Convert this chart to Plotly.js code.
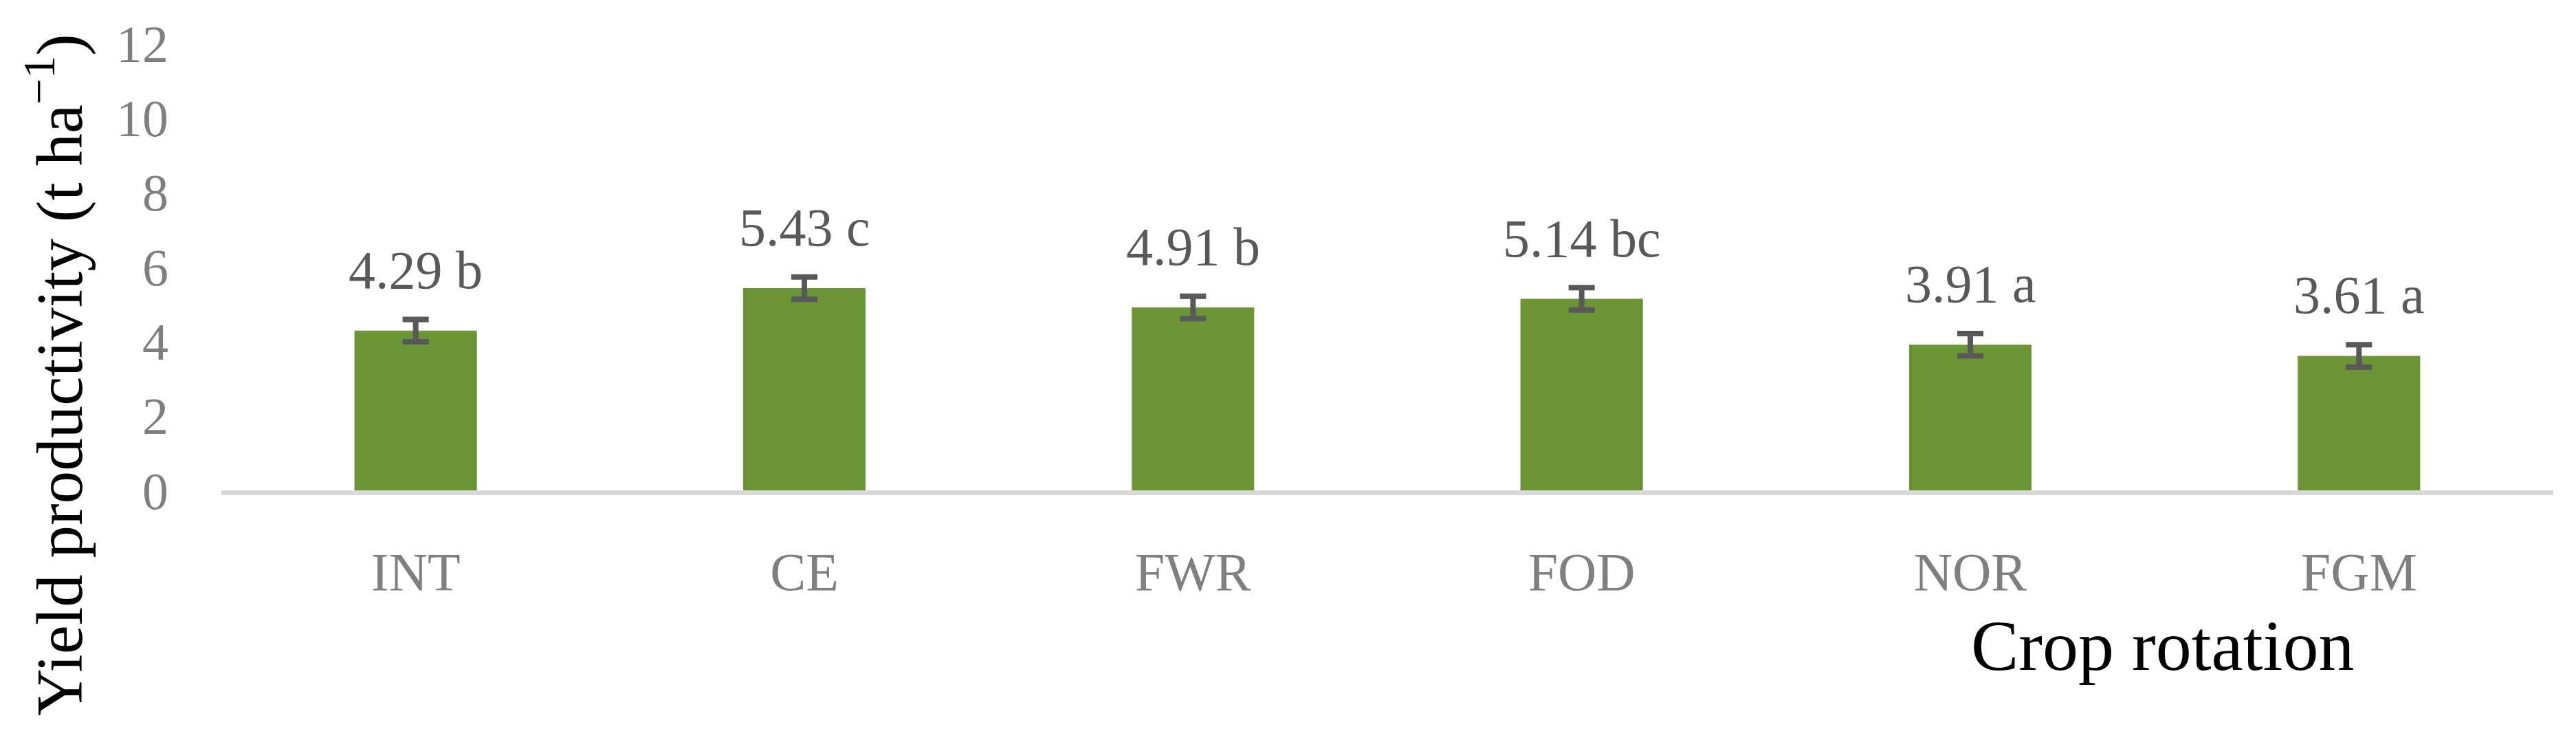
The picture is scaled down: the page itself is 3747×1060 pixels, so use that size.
<!DOCTYPE html>
<html>
<head>
<meta charset="utf-8">
<script src="https://cdn.plot.ly/plotly-3.0.1.min.js"></script>
<style>
  html, body { margin: 0; padding: 0; background: #ffffff; }
  #chart { width: 3747px; height: 1060px; }
</style>
</head>
<body>
<div id="chart"></div>
<script>
// ---- Data ----
const categories = ["INT", "CE", "FWR", "FOD", "NOR", "FGM"];
const yieldValues = [4.29, 5.43, 4.91, 5.14, 3.91, 3.61];
const errorValues = [0.30, 0.30, 0.30, 0.30, 0.30, 0.30];
const letters = ["b", "c", "b", "bc", "a", "a"];
const yTickValues = [0, 2, 4, 6, 8, 10, 12];

const serif = "Liberation Serif, Times New Roman, serif";

const trace = {
  type: "bar",
  x: categories,
  y: yieldValues,
  marker: { color: "#6b9434" },
  error_y: {
    type: "data",
    array: errorValues,
    visible: true,
    color: "#595959",
    thickness: 8,
    width: 19
  },
  hoverinfo: "skip"
};

const valueLabels = categories.map((c, i) => ({
  x: c,
  y: yieldValues[i],
  xref: "x",
  yref: "y",
  text: yieldValues[i].toFixed(2) + " " + letters[i],
  showarrow: false,
  xanchor: "center",
  yanchor: "bottom",
  yshift: 44,
  borderpad: 0,
  font: { family: serif, size: 78, color: "#595959" }
}));

const layout = {
  width: 3747,
  height: 1060,
  margin: { l: 322, r: 33, t: 63, b: 347 },
  paper_bgcolor: "#ffffff",
  plot_bgcolor: "#ffffff",
  showlegend: false,
  bargap: 0.685,
  xaxis: {
    type: "category",
    showline: true,
    linecolor: "#d9d9d9",
    linewidth: 7,
    showgrid: false,
    zeroline: false,
    ticks: "",
    ticklabelstandoff: 44,
    tickfont: { family: serif, size: 78, color: "#7f7f7f" }
  },
  yaxis: {
    range: [0, 12],
    tickvals: yTickValues,
    ticktext: yTickValues.map(String),
    showline: false,
    showgrid: false,
    zeroline: false,
    ticks: "",
    ticklabelstandoff: 76,
    tickfont: { family: serif, size: 76, color: "#7f7f7f" }
  },
  annotations: valueLabels.concat([
    {
      xref: "paper", yref: "paper",
      x: (3145 - 322) / 3392, y: (713 - 938) / 650,
      xanchor: "center", yanchor: "middle",
      text: "Crop rotation",
      showarrow: false,
      font: { family: serif, size: 104, color: "#000000" }
    },
    {
      xref: "paper", yref: "paper",
      x: (80 - 322) / 3392, y: (713 - 545) / 650,
      xanchor: "center", yanchor: "middle",
      textangle: -90,
      text: "Yield productivity (t ha<sup>−1</sup>)",
      showarrow: false,
      font: { family: serif, size: 95, color: "#000000" }
    }
  ])
};

Plotly.newPlot("chart", [trace], layout, { staticPlot: true, displayModeBar: false });
</script>
</body>
</html>
